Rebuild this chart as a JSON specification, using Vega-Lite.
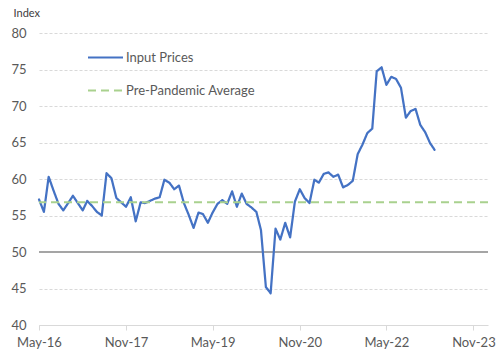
{
  "$schema": "https://vega.github.io/schema/vega-lite/v6.json",
  "width": 449,
  "height": 292,
  "autosize": "none",
  "padding": {"left": 39, "top": 33, "right": 15, "bottom": 39},
  "background": "white",
  "config": {
    "view": {"stroke": null},
    "font": "Lato",
    "axis": {"labelFont": "Lato", "labelColor": "#595959", "labelFontSize": 13, "titleFont": "Lato"},
    "legend": {"labelFont": "Lato", "labelColor": "#595959", "labelFontSize": 13}
  },
  "datasets": {
    "prices": [
      {"date": "2016-05-01", "value": 57.2, "series": "Input Prices"},
      {"date": "2016-06-01", "value": 55.5, "series": "Input Prices"},
      {"date": "2016-07-01", "value": 60.3, "series": "Input Prices"},
      {"date": "2016-08-01", "value": 58.4, "series": "Input Prices"},
      {"date": "2016-09-01", "value": 56.6, "series": "Input Prices"},
      {"date": "2016-10-01", "value": 55.7, "series": "Input Prices"},
      {"date": "2016-11-01", "value": 56.7, "series": "Input Prices"},
      {"date": "2016-12-01", "value": 57.7, "series": "Input Prices"},
      {"date": "2017-01-01", "value": 56.7, "series": "Input Prices"},
      {"date": "2017-02-01", "value": 55.7, "series": "Input Prices"},
      {"date": "2017-03-01", "value": 57.0, "series": "Input Prices"},
      {"date": "2017-04-01", "value": 56.3, "series": "Input Prices"},
      {"date": "2017-05-01", "value": 55.5, "series": "Input Prices"},
      {"date": "2017-06-01", "value": 55.0, "series": "Input Prices"},
      {"date": "2017-07-01", "value": 60.8, "series": "Input Prices"},
      {"date": "2017-08-01", "value": 60.1, "series": "Input Prices"},
      {"date": "2017-09-01", "value": 57.4, "series": "Input Prices"},
      {"date": "2017-10-01", "value": 56.8, "series": "Input Prices"},
      {"date": "2017-11-01", "value": 56.2, "series": "Input Prices"},
      {"date": "2017-12-01", "value": 57.5, "series": "Input Prices"},
      {"date": "2018-01-01", "value": 54.2, "series": "Input Prices"},
      {"date": "2018-02-01", "value": 56.8, "series": "Input Prices"},
      {"date": "2018-03-01", "value": 56.7, "series": "Input Prices"},
      {"date": "2018-04-01", "value": 57.0, "series": "Input Prices"},
      {"date": "2018-05-01", "value": 57.3, "series": "Input Prices"},
      {"date": "2018-06-01", "value": 57.5, "series": "Input Prices"},
      {"date": "2018-07-01", "value": 59.9, "series": "Input Prices"},
      {"date": "2018-08-01", "value": 59.5, "series": "Input Prices"},
      {"date": "2018-09-01", "value": 58.6, "series": "Input Prices"},
      {"date": "2018-10-01", "value": 59.1, "series": "Input Prices"},
      {"date": "2018-11-01", "value": 56.7, "series": "Input Prices"},
      {"date": "2018-12-01", "value": 55.1, "series": "Input Prices"},
      {"date": "2019-01-01", "value": 53.3, "series": "Input Prices"},
      {"date": "2019-02-01", "value": 55.4, "series": "Input Prices"},
      {"date": "2019-03-01", "value": 55.2, "series": "Input Prices"},
      {"date": "2019-04-01", "value": 54.0, "series": "Input Prices"},
      {"date": "2019-05-01", "value": 55.4, "series": "Input Prices"},
      {"date": "2019-06-01", "value": 56.6, "series": "Input Prices"},
      {"date": "2019-07-01", "value": 57.1, "series": "Input Prices"},
      {"date": "2019-08-01", "value": 56.6, "series": "Input Prices"},
      {"date": "2019-09-01", "value": 58.3, "series": "Input Prices"},
      {"date": "2019-10-01", "value": 56.2, "series": "Input Prices"},
      {"date": "2019-11-01", "value": 58.0, "series": "Input Prices"},
      {"date": "2019-12-01", "value": 56.6, "series": "Input Prices"},
      {"date": "2020-01-01", "value": 56.1, "series": "Input Prices"},
      {"date": "2020-02-01", "value": 55.5, "series": "Input Prices"},
      {"date": "2020-03-01", "value": 53.0, "series": "Input Prices"},
      {"date": "2020-04-01", "value": 45.2, "series": "Input Prices"},
      {"date": "2020-05-01", "value": 44.35, "series": "Input Prices"},
      {"date": "2020-06-01", "value": 53.2, "series": "Input Prices"},
      {"date": "2020-07-01", "value": 51.7, "series": "Input Prices"},
      {"date": "2020-08-01", "value": 54.0, "series": "Input Prices"},
      {"date": "2020-09-01", "value": 52.0, "series": "Input Prices"},
      {"date": "2020-10-01", "value": 56.9, "series": "Input Prices"},
      {"date": "2020-11-01", "value": 58.6, "series": "Input Prices"},
      {"date": "2020-12-01", "value": 57.4, "series": "Input Prices"},
      {"date": "2021-01-01", "value": 56.7, "series": "Input Prices"},
      {"date": "2021-02-01", "value": 59.9, "series": "Input Prices"},
      {"date": "2021-03-01", "value": 59.5, "series": "Input Prices"},
      {"date": "2021-04-01", "value": 60.7, "series": "Input Prices"},
      {"date": "2021-05-01", "value": 60.9, "series": "Input Prices"},
      {"date": "2021-06-01", "value": 60.3, "series": "Input Prices"},
      {"date": "2021-07-01", "value": 60.6, "series": "Input Prices"},
      {"date": "2021-08-01", "value": 58.85, "series": "Input Prices"},
      {"date": "2021-09-01", "value": 59.2, "series": "Input Prices"},
      {"date": "2021-10-01", "value": 59.75, "series": "Input Prices"},
      {"date": "2021-11-01", "value": 63.4, "series": "Input Prices"},
      {"date": "2021-12-01", "value": 64.7, "series": "Input Prices"},
      {"date": "2022-01-01", "value": 66.3, "series": "Input Prices"},
      {"date": "2022-02-01", "value": 66.9, "series": "Input Prices"},
      {"date": "2022-03-01", "value": 74.75, "series": "Input Prices"},
      {"date": "2022-04-01", "value": 75.3, "series": "Input Prices"},
      {"date": "2022-05-01", "value": 72.9, "series": "Input Prices"},
      {"date": "2022-06-01", "value": 74.0, "series": "Input Prices"},
      {"date": "2022-07-01", "value": 73.7, "series": "Input Prices"},
      {"date": "2022-08-01", "value": 72.5, "series": "Input Prices"},
      {"date": "2022-09-01", "value": 68.4, "series": "Input Prices"},
      {"date": "2022-10-01", "value": 69.3, "series": "Input Prices"},
      {"date": "2022-11-01", "value": 69.6, "series": "Input Prices"},
      {"date": "2022-12-01", "value": 67.4, "series": "Input Prices"},
      {"date": "2023-01-01", "value": 66.4, "series": "Input Prices"},
      {"date": "2023-02-01", "value": 64.9, "series": "Input Prices"},
      {"date": "2023-03-01", "value": 64.0, "series": "Input Prices"}
    ],
    "average": [{"value": 56.8, "series": "Pre-Pandemic Average"}],
    "base": [{"value": 50}]
  },
  "encoding": {
    "y": {
      "field": "value",
      "type": "quantitative",
      "scale": {"domain": [40, 80], "nice": false, "zero": false},
      "axis": {
        "tickCount": 8,
        "labelOverlap": false,
        "labelSeparation": 0,
        "labelBound": false,
        "title": "Index",
        "titleAngle": 0,
        "titleAlign": "left",
        "titleBaseline": "alphabetic",
        "titleX": -26,
        "titleY": -17,
        "titleFontSize": 11,
        "titleFontWeight": "normal",
        "titleColor": "#404040",
        "domain": false,
        "ticks": false,
        "labelPadding": 13,
        "grid": true,
        "gridColor": "#D9D9D9",
        "gridDash": [3, 2],
        "gridWidth": 1
      }
    }
  },
  "layer": [
    {
      "data": {"name": "base"},
      "mark": {"type": "rule", "color": "#A5A5A5", "strokeWidth": 2}
    },
    {
      "data": {"name": "prices"},
      "mark": {"type": "line", "strokeWidth": 2.25, "strokeCap": "round", "strokeJoin": "round"},
      "encoding": {
        "x": {
          "field": "date",
          "type": "temporal",
          "scale": {
            "type": "utc",
            "domain": [
              {"year": 2016, "month": 5, "date": 1, "utc": true},
              {"year": 2024, "month": 2, "date": 1, "utc": true}
            ]
          },
          "axis": {
            "title": null,
            "grid": false,
            "format": "%b-%y",
            "values": [
              {"year": 2016, "month": 5, "date": 1, "utc": true},
              {"year": 2017, "month": 11, "date": 1, "utc": true},
              {"year": 2019, "month": 5, "date": 1, "utc": true},
              {"year": 2020, "month": 11, "date": 1, "utc": true},
              {"year": 2022, "month": 5, "date": 1, "utc": true},
              {"year": 2023, "month": 11, "date": 1, "utc": true}
            ],
            "domainColor": "#D9D9D9",
            "domainWidth": 1,
            "tickColor": "#D9D9D9",
            "tickSize": 5,
            "labelPadding": 6,
            "labelFlush": false,
            "labelOverlap": false
          }
        },
        "color": {
          "field": "series",
          "type": "nominal",
          "scale": {"domain": ["Input Prices", "Pre-Pandemic Average"], "range": ["#4472C4", "#A9D18E"]},
          "legend": {
            "title": null,
            "orient": "none",
            "legendX": 48,
            "legendY": 6,
            "padding": 0,
            "symbolType": "stroke",
            "symbolSize": 1225,
            "symbolStrokeWidth": 2,
            "labelOffset": 2,
            "rowPadding": 7
          }
        },
        "strokeDash": {
          "field": "series",
          "type": "nominal",
          "scale": {"domain": ["Input Prices", "Pre-Pandemic Average"], "range": [[1, 0], [8, 5]]},
          "legend": {
            "title": null,
            "orient": "none",
            "legendX": 48,
            "legendY": 6,
            "padding": 0,
            "symbolType": "stroke",
            "symbolSize": 1225,
            "symbolStrokeWidth": 2,
            "labelOffset": 2,
            "rowPadding": 7
          }
        }
      }
    },
    {
      "data": {"name": "average"},
      "mark": {"type": "rule", "strokeWidth": 2},
      "encoding": {
        "color": {"field": "series", "type": "nominal"},
        "strokeDash": {"field": "series", "type": "nominal"}
      }
    }
  ]
}
